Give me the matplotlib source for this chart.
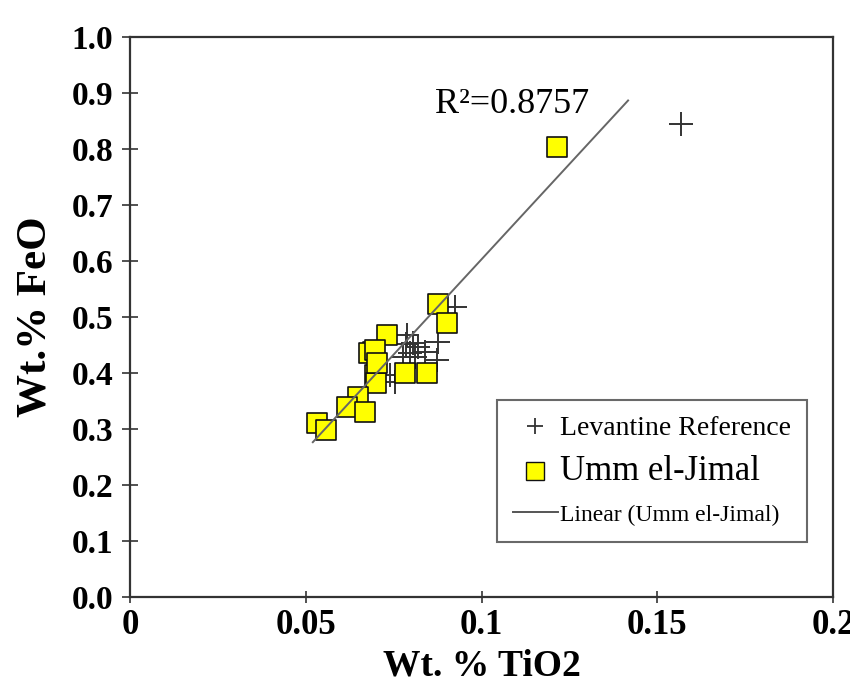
import numpy as np
import matplotlib
matplotlib.use("Agg")
import matplotlib.pyplot as plt
from matplotlib.lines import Line2D

plt.rcParams['font.family'] = ['Liberation Serif', 'DejaVu Serif']

# Levantine Reference (plus markers)
lev_tio2 = [0.1568, 0.0925, 0.0875, 0.0787, 0.0805, 0.0820, 0.0797, 0.0839,
            0.0777, 0.0740, 0.0754, 0.0873, 0.0785, 0.0810]
lev_feo = [0.845, 0.518, 0.456, 0.468, 0.454, 0.447, 0.436, 0.4375,
           0.429, 0.396, 0.384, 0.423, 0.452, 0.428]

# Umm el-Jimal (yellow squares)
uej_tio2 = [0.1216, 0.0875, 0.0901, 0.0730, 0.0692, 0.0680, 0.0697, 0.0783,
            0.0844, 0.0697, 0.0700, 0.0703, 0.0649, 0.0617, 0.0669, 0.0532,
            0.0557]
uej_feo = [0.804, 0.523, 0.490, 0.468, 0.438, 0.436, 0.441, 0.400,
           0.400, 0.396, 0.382, 0.418, 0.358, 0.340, 0.331, 0.311,
           0.298]

# linear trend of Umm el-Jimal, as drawn in the original
trend_x = np.array([0.052, 0.1417])
trend_slope = 6.80
trend_intercept = -0.077
r2_text = "R\u00b2=0.8757"

fig = plt.figure(figsize=(8.5, 6.84), dpi=100)
ax = fig.add_axes([0.153, 0.127, 0.827, 0.819])

ax.scatter(lev_tio2, lev_feo, marker='+', s=290, c='#333333',
           linewidths=1.4, zorder=2)
ax.scatter(uej_tio2, uej_feo, marker='s', s=215, c='#ffff00',
           edgecolors='#111111', linewidths=1.2, zorder=3)
ax.plot(trend_x, trend_slope * trend_x + trend_intercept, color='#666666',
        lw=1.4, zorder=4)

ax.text(0.0868, 0.864, r2_text, fontsize=26, ha='left', va='baseline')

ax.set_xlim(0, 0.2)
ax.set_ylim(0, 1.0)
ax.set_xticks([0, 0.05, 0.1, 0.15, 0.2])
ax.set_xticklabels(['0', '0.05', '0.1', '0.15', '0.2'])
ax.set_yticks(np.arange(0, 1.01, 0.1))
ax.set_yticklabels(['%.1f' % v for v in np.arange(0, 1.01, 0.1)])

for s in ax.spines.values():
    s.set_color('#333333')
    s.set_linewidth(1.6)

ax.tick_params(axis='y', direction='inout', length=12, width=1.2,
               color='#333333', labelsize=24, pad=6)
ax.tick_params(axis='x', direction='inout', length=9, width=1.2,
               color='#333333', labelsize=25, pad=4)
for lab in ax.get_xticklabels() + ax.get_yticklabels():
    lab.set_fontweight('bold')

ax.set_xlabel('Wt. % TiO2', fontsize=27, fontweight='bold', labelpad=5)
ax.set_ylabel('Wt.% FeO', fontsize=31, fontweight='bold', labelpad=12)

handles = [
    Line2D([], [], ls='none', marker='+', ms=12, mew=1.3, color='#333333'),
    Line2D([], [], ls='none', marker='s', ms=13, mfc='#ffff00',
           mec='#111111', mew=1.0),
    Line2D([], [], color='#555555', lw=1.4),
]
labels = ['Levantine Reference', 'Umm el-Jimal', 'Linear (Umm el-Jimal)']
leg = ax.legend(handles, labels, loc='lower right',
                bbox_to_anchor=(0.963, 0.098), fontsize=19, frameon=True,
                fancybox=False, handlelength=1.7, handletextpad=0.1,
                borderpad=0.6, labelspacing=0.55, borderaxespad=0)
leg.get_frame().set_edgecolor('#444444')
leg.get_frame().set_linewidth(1.5)
texts = leg.get_texts()
texts[0].set_fontsize(20)
texts[1].set_fontsize(25)
texts[2].set_fontsize(17)

fig.savefig('out.png', dpi=100)
